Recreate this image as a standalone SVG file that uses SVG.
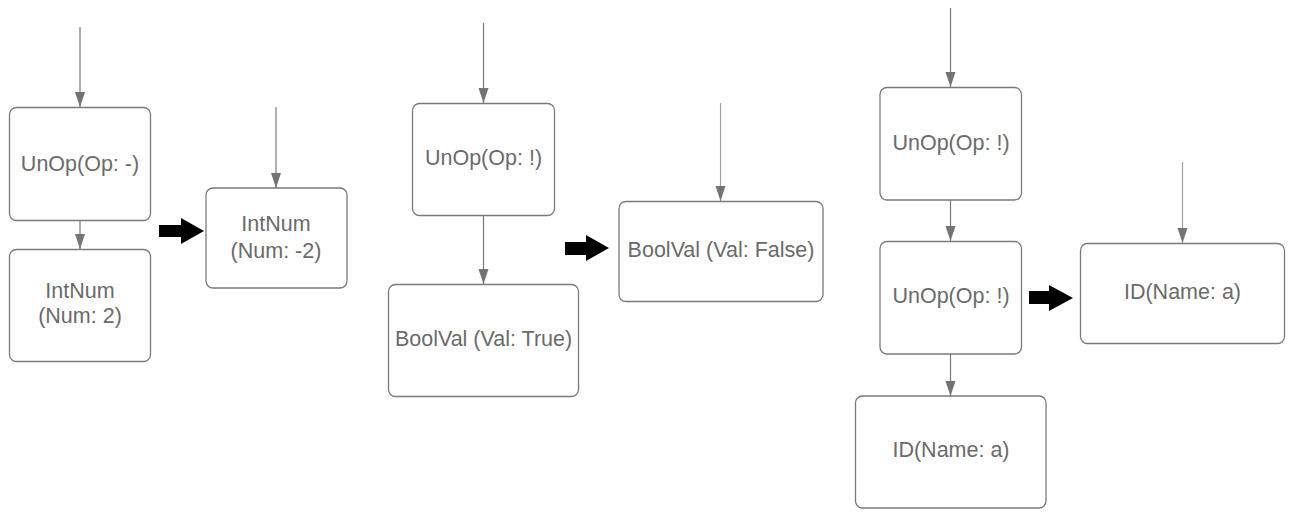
<svg xmlns="http://www.w3.org/2000/svg" width="1300" height="521" viewBox="0 0 1300 521">
<style>
.box{fill:#ffffff;stroke:#7a7a7a;stroke-width:1.3}
.t{font-family:"Liberation Sans",Arial,sans-serif;font-size:21.5px;fill:#6b6b6b;text-anchor:middle}
.ln{stroke:#7a7a7a;stroke-width:1.2;fill:none}
.ln2{stroke:#a0a0a0;stroke-width:1.2;fill:none}
.big{fill:#000000}
.hd{fill:#737373}
</style>
<rect width="1300" height="521" fill="#ffffff"/>
<g id="connectors">
<line class="ln" x1="80" y1="27" x2="80" y2="107"/>
<line class="ln" x1="80" y1="220" x2="80" y2="249"/>
<line class="ln" x1="276" y1="107" x2="276" y2="188"/>
<line class="ln" x1="483.5" y1="23" x2="483.5" y2="103"/>
<line class="ln" x1="483.5" y1="216" x2="483.5" y2="284"/>
<line class="ln2" x1="720.5" y1="103" x2="720.5" y2="201"/>
<line class="ln" x1="950.5" y1="8" x2="950.5" y2="87"/>
<line class="ln" x1="950.5" y1="200" x2="950.5" y2="241"/>
<line class="ln" x1="950.5" y1="354" x2="950.5" y2="396"/>
<line class="ln2" x1="1182.5" y1="162" x2="1182.5" y2="243"/>
<path class="hd" d="M75,92 L85,92 L80,107 Z"/>
<path class="hd" d="M75,234 L85,234 L80,249 Z"/>
<path class="hd" d="M271,173 L281,173 L276,188 Z"/>
<path class="hd" d="M478.5,88 L488.5,88 L483.5,103 Z"/>
<path class="hd" d="M478.5,269 L488.5,269 L483.5,284 Z"/>
<path class="hd" d="M715.5,186 L725.5,186 L720.5,201 Z"/>
<path class="hd" d="M945.5,72 L955.5,72 L950.5,87 Z"/>
<path class="hd" d="M945.5,226 L955.5,226 L950.5,241 Z"/>
<path class="hd" d="M945.5,381 L955.5,381 L950.5,396 Z"/>
<path class="hd" d="M1177.5,228 L1187.5,228 L1182.5,243 Z"/>
<path class="big" d="M159,225 H181 V218 L204,231 L181,244 V237 H159 Z"/>
<path class="big" d="M565,242 H586 V235 L609,248 L586,261 V255 H565 Z"/>
<path class="big" d="M1029,291 H1049 V285 L1073,298 L1049,311 V304 H1029 Z"/>
</g>
<g id="n1"><rect class="box" x="9.5" y="107.5" width="141" height="113" rx="7"/><text class="t" x="80" y="170.5">UnOp(Op: -)</text></g>
<g id="n2"><rect class="box" x="9.5" y="249.5" width="141" height="112" rx="7"/><text class="t" x="80" y="297.5">IntNum</text><text class="t" x="80" y="322.5">(Num: 2)</text></g>
<g id="n3"><rect class="box" x="206" y="188" width="141" height="100" rx="7"/><text class="t" x="276" y="230.5">IntNum</text><text class="t" x="276" y="257.5">(Num: -2)</text></g>
<g id="n4"><rect class="box" x="412.5" y="103.5" width="142" height="112" rx="7"/><text class="t" x="483.5" y="164.5">UnOp(Op: !)</text></g>
<g id="n5"><rect class="box" x="388.5" y="284.5" width="190" height="112" rx="7"/><text class="t" x="483.5" y="345.5">BoolVal (Val: True)</text></g>
<g id="n6"><rect class="box" x="619" y="201.5" width="204" height="100" rx="7"/><text class="t" x="721" y="256.5">BoolVal (Val: False)</text></g>
<g id="n7"><rect class="box" x="880" y="87.5" width="141.5" height="112.5" rx="7"/><text class="t" x="951" y="149.5">UnOp(Op: !)</text></g>
<g id="n8"><rect class="box" x="880" y="241.5" width="141.5" height="112.5" rx="7"/><text class="t" x="951" y="302.5">UnOp(Op: !)</text></g>
<g id="n9"><rect class="box" x="855.5" y="396" width="190.5" height="112" rx="7"/><text class="t" x="951" y="456.5">ID(Name: a)</text></g>
<g id="n10"><rect class="box" x="1080.5" y="243.5" width="204" height="100" rx="7"/><text class="t" x="1182.5" y="298.5">ID(Name: a)</text></g>
</svg>
